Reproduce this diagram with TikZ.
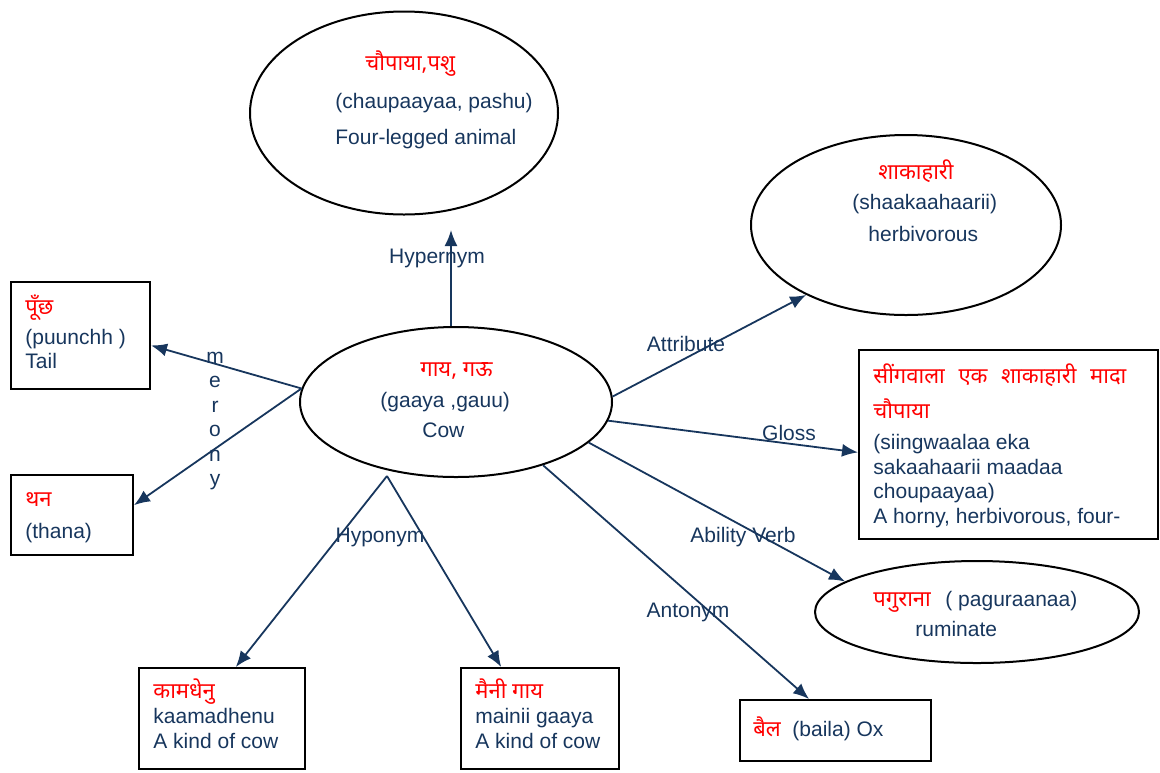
\documentclass[tikz,border=0pt]{standalone}
\usepackage{fontspec}
\setmainfont{Liberation Sans}
\newfontfamily\deva[Script=Devanagari]{Noto Sans}
\usetikzlibrary{shapes.geometric,arrows.meta}
\definecolor{navy}{RGB}{23,54,93}

\begin{document}
\begin{tikzpicture}[x=0.5pt,y=-0.5pt,
    woval/.style={draw=black, line width=1pt, ellipse, inner sep=0pt},
    wbox/.style={draw=black, line width=1pt, rectangle, inner sep=0pt},
    arr/.style={draw=navy, line width=0.9pt, -{Latex[length=8pt,width=6.5pt]}},
    hin/.style={anchor=base west, text=red, inner sep=0pt, font=\deva\fontsize{11}{13}\selectfont},
    eng/.style={anchor=base west, text=navy, inner sep=0pt, font=\fontsize{10.5}{12}\selectfont},
    lbl/.style={text=navy, inner sep=0pt, font=\fontsize{10.5}{12}\selectfont}]
    \useasboundingbox (0,0) rectangle (1160,772);

    % shapes
    \node[woval, minimum width=154pt, minimum height=101.5pt] (animal) at (404,113) {};
    \node[woval, minimum width=155pt, minimum height=90pt] (herb) at (906,225) {};
    \node[woval, minimum width=156pt, minimum height=75pt] (cow) at (456,402) {};
    \node[woval, minimum width=162pt, minimum height=51pt] (pagu) at (977,612) {};
    \node[wbox, minimum width=69.5pt, minimum height=53.5pt] (puun) at (80.5,335.5) {};
    \node[wbox, minimum width=61pt, minimum height=40pt] (thana) at (72,515) {};
    \node[wbox, minimum width=149.5pt, minimum height=94.5pt] (gloss) at (1008.5,444.5) {};
    \node[wbox, minimum width=83pt, minimum height=50.5pt] (kaama) at (222,718.5) {};
    \node[wbox, minimum width=79pt, minimum height=50.5pt] (mainii) at (540,718.5) {};
    \node[wbox, minimum width=95.5pt, minimum height=30.5pt] (baila) at (835.5,730.5) {};

    % texts
    \node[hin] (animalHi) at (365,70) {चौपाया,पशु};
    \node[eng] (animalTr) at (335,108) {(chaupaayaa, pashu)};
    \node[eng] (animalEn) at (335,144) {Four-legged animal};
    \node[hin, anchor=base] (herbHi) at (916,179) {शाकाहारी};
    \node[eng] (herbTr) at (852,209) {(shaakaahaarii)};
    \node[eng] (herbEn) at (868,241) {herbivorous};
    \node[hin] (cowHi) at (420,376) {गाय, गऊ};
    \node[eng] (cowTr) at (380,407) {(gaaya ,gauu)};
    \node[eng] (cowEn) at (422,437) {Cow};
    \node[hin] (puunHi) at (25,314) {पूँछ};
    \node[eng] (puunTr) at (25,344) {(puunchh )};
    \node[eng] (puunEn) at (25,368) {Tail};
    \node[hin] (thanaHi) at (25,506) {थन};
    \node[eng] (thanaTr) at (25,538) {(thana)};
    \node[hin] (glossHiA) at (873,383) {\makebox[126.5pt][s]{सींगवाला एक शाकाहारी मादा}};
    \node[hin] (glossHiB) at (873,418) {चौपाया};
    \node[eng] (glossTrA) at (873,449) {(siingwaalaa eka};
    \node[eng] (glossTrB) at (873,474) {sakaahaarii maadaa};
    \node[eng] (glossTrC) at (873,498) {choupaayaa)};
    \node[eng] (glossEn) at (873,523) {A horny, herbivorous, four-};
    \node[hin] (kaamaHi) at (153,698) {कामधेनु};
    \node[eng] (kaamaTr) at (153,723) {kaamadhenu};
    \node[eng] (kaamaEn) at (153,748) {A kind of cow};
    \node[hin] (mainiiHi) at (475,698) {मैनी गाय};
    \node[eng] (mainiiTr) at (475,723) {mainii gaaya};
    \node[eng] (mainiiEn) at (475,748) {A kind of cow};
    \node[hin] (bailaHi) at (753,736) {बैल};
    \node[eng] (bailaTr) at (792,736) {(baila) Ox};
    \node[hin] (paguHi) at (873,606) {पगुराना};
    \node[eng] (paguTr) at (945,606) {( paguraanaa)};
    \node[eng] (paguEn) at (915,636) {ruminate};

    % relations
    \coordinate (hyperTip) at (451,230);
    \coordinate (hypoSrc) at (387,476);
    \draw[arr] (cow.north -| hyperTip) -- (hyperTip);
    \draw[arr] (cow.175) -- (puun.-8.6);
    \draw[arr] (cow.175) -- (thana.9.3);
    \draw[arr] (cow.2) -- (herb.215);
    \draw[arr] (cow.-7) -- (gloss.183.2);
    \draw[arr] (cow.-17) -- (pagu.167);
    \draw[arr] (cow.-36.6) -- (baila.130);
    \draw[arr] (hypoSrc) -- (kaama.75.6);
    \draw[arr] (hypoSrc) -- (mainii.127);

    % relation labels
    \node[lbl] (hyperLbl) at (437,258) {Hypernym};
    \node[lbl] (attrLbl) at (686,344) {Attribute};
    \node[lbl] (glossLbl) at (789,433) {Gloss};
    \node[lbl] (abilLbl) at (743,537) {Ability Verb};
    \node[lbl] (antoLbl) at (688,612) {Antonym};
    \node[lbl] (hypoLbl) at (380,537) {Hyponym};
    \node[lbl, align=center, font=\fontsize{10.5}{12.25}\selectfont] (meroLbl) at (215,421) {m\\e\\r\\o\\n\\y};
\end{tikzpicture}
\end{document}
